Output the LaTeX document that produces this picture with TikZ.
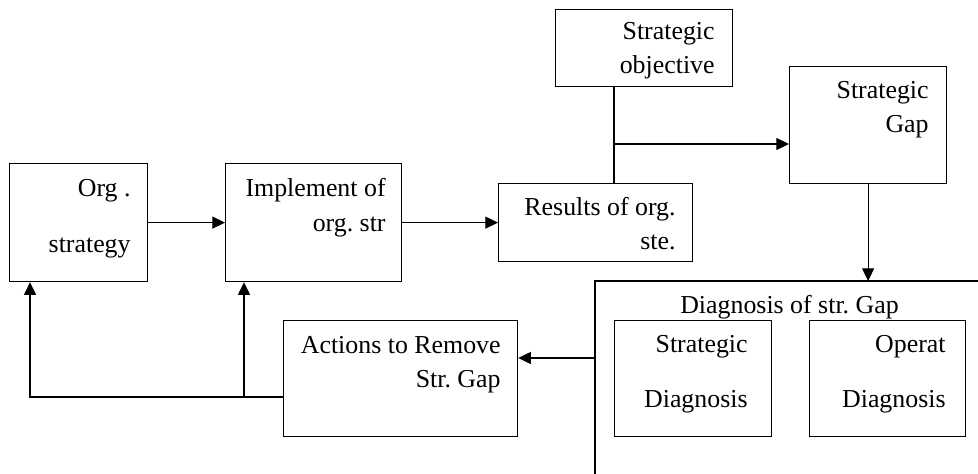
\documentclass[tikz,border=0pt]{standalone}
\usepackage{fontspec}
\setmainfont{Liberation Serif}
\usetikzlibrary{arrows.meta,calc}
\frenchspacing

\begin{document}
\begin{tikzpicture}[x=0.75pt,y=-0.75pt,>={Triangle[length=9.5pt,width=9pt]},
                    line width=0.9pt]
  \tikzstyle{box}=[draw,rectangle,anchor=north west,inner sep=0pt]
  \tikzstyle{txt}=[align=right,anchor=base east,inner sep=0pt,
                   font=\fontsize{19.4}{25.5}\selectfont]

  \useasboundingbox (0,0) rectangle (978,474);

  % boxes
  \node[box,minimum width=103.5pt,minimum height=88.5pt]  (org)  at (9,163)   {};
  \node[box,minimum width=132pt,minimum height=88.5pt]    (impl) at (225,163) {};
  \node[box,minimum width=145.5pt,minimum height=58.5pt]  (res)  at (498,183) {};
  \node[box,minimum width=132.75pt,minimum height=57.75pt] (obj) at (555,9)   {};
  \node[box,minimum width=117.75pt,minimum height=87.75pt] (gap) at (789,66)  {};
  \node[box,minimum width=175.5pt,minimum height=87pt]    (acts) at (283,320) {};
  \node[box,minimum width=117.75pt,minimum height=87pt]   (sdiag) at (614,320) {};
  \node[box,minimum width=117pt,minimum height=87pt]      (odiag) at (809,320) {};

  % texts (placed by the baseline of the last line)
  \node[txt] (orgt)  at ($(org.north east)+(-17,89)$)  {Org .\\[15.75pt]strategy};
  \node[txt] (implt) at ($(impl.north east)+(-16,68)$) {Implement of\\org. str};
  \node[txt] (rest)  at ($(res.north east)+(-17,66)$)  {Results of org.\\ste.};
  \node[txt] (objt)  at ($(obj.north east)+(-18,65)$)  {Strategic\\objective};
  \node[txt] (gapt)  at ($(gap.north east)+(-18,67)$)  {Strategic\\Gap};
  \node[txt] (actst) at ($(acts.north east)+(-17,67)$) {Actions to Remove\\Str. Gap};
  \node[txt] (sdiagt) at ($(sdiag.north east)+(-24,87)$) {Strategic\\[15.75pt]Diagnosis};
  \node[txt] (odiagt) at ($(odiag.north east)+(-20,87)$) {Operat\\[15.75pt]Diagnosis};

  % open diagnosis frame
  \coordinate (diagtl) at (595,281);
  \draw (595,474) -- (diagtl) -- (978,281);
  \node[txt,anchor=base] (diagt) at (789.5,313) {Diagnosis of str. Gap};

  % connectors
  \coordinate (junc) at (614,144);
  \coordinate (diagin) at (595,358);
  \coordinate (back) at (283,397);
  \draw[->] (org) -- (impl);
  \draw[->] (impl) -- (res);
  \draw (junc |- obj.south) -- (junc |- res.north);
  \draw[->] (junc) -- (junc -| gap.west);
  \draw[->] (gap) -- (gap |- diagtl);
  \draw[->] (diagin) -- (diagin -| acts.east);
  \draw[->] (back) -| ($(org.south west)+(21,0)$);
  \draw[->] ($(back)+(-39,0)$) -- ($(impl.south west)+(19,0)$);
\end{tikzpicture}
\end{document}
